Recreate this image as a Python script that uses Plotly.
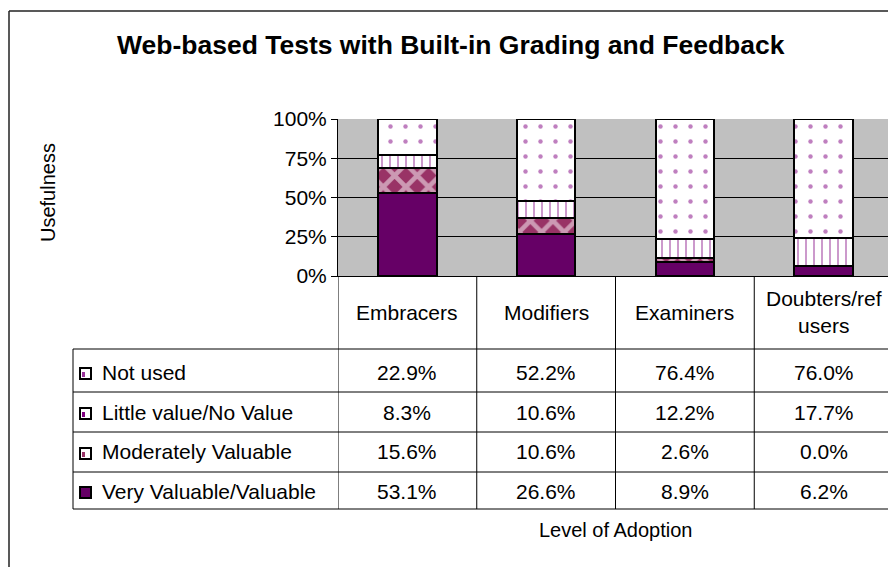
import plotly.graph_objects as go

categories = ["Embracers", "Modifiers", "Examiners", "Doubters/ref<br>users"]
series_names = ["Very Valuable/Valuable", "Moderately Valuable", "Little value/No Value", "Not used"]
very_valuable = [53.1, 26.6, 8.9, 6.2]
moderately = [15.6, 10.6, 2.6, 0.0]
little_value = [8.3, 10.6, 12.2, 17.7]
not_used = [22.9, 52.2, 76.4, 76.0]
y_ticks = [0, 25, 50, 75, 100]
title_text = "Web-based Tests with Built-in Grading and Feedback"
y_title = "Usefulness"
x_title = "Level of Adoption"

# page body has an 8px margin; figure is sized to fit the window
OFF = 8
W, H = 896 - OFF, 567 - OFF
# plot area in screen pixels
L, R, T, B = 338, 893, 119, 276
FONT = "Liberation Sans, Arial, sans-serif"
FS = 21


def px(xs):
    return (xs - L) / (R - L)


def py(ys):
    return (B - ys) / (B - T)


x_idx = list(range(len(categories)))
series_vals = [very_valuable, moderately, little_value, not_used]
patterns = [
    dict(shape=""),
    dict(shape="x", bgcolor="#993366", fgcolor="white", size=16, solidity=0.5, fillmode="overlay"),
    dict(shape="|", bgcolor="white", fgcolor="#800080", size=8, solidity=0.2, fillmode="overlay"),
    dict(shape=".", bgcolor="white", fgcolor="#800080", size=15, solidity=0.07, fillmode="overlay"),
]
fills = ["#660066", "#993366", "white", "white"]

fig = go.Figure()
for name, vals, pat, col in zip(series_names, series_vals, patterns, fills):
    fig.add_trace(go.Bar(
        x=x_idx, y=vals, name=name, width=0.42,
        marker=dict(color=col, pattern=pat, line=dict(color="black", width=2)),
        showlegend=False,
    ))

shapes = []
ann = []

# Outer chart border (left and top)
shapes.append(dict(type="line", xref="paper", yref="paper", x0=px(9), x1=px(905), y0=py(11), y1=py(11),
                   line=dict(color="#222", width=1.5)))
shapes.append(dict(type="line", xref="paper", yref="paper", x0=px(9), x1=px(9), y0=py(11), y1=py(580),
                   line=dict(color="#222", width=1.5)))

# Data table
row_bounds = [349, 392, 432, 472, 509]
row_centers = [372, 412, 452, 491]
table_left = 73
for b in [i - 0.5 for i in range(len(categories) + 1)]:
    shapes.append(dict(type="line", xref="x", yref="paper", x0=b, x1=b, y0=py(276), y1=py(509),
                       line=dict(color="black", width=1)))
shapes.append(dict(type="line", xref="paper", yref="paper", x0=px(table_left), x1=px(table_left),
                   y0=py(349), y1=py(509), line=dict(color="black", width=1)))
for yb in row_bounds:
    shapes.append(dict(type="line", xref="paper", yref="paper", x0=px(table_left), x1=px(R),
                       y0=py(yb), y1=py(yb), line=dict(color="black", width=1)))

for i, c in enumerate(categories):
    ann.append(dict(x=i, y=py(312), xref="x", yref="paper", text=c, showarrow=False,
                    font=dict(size=FS, family=FONT, color="black"), xanchor="center", yanchor="middle"))

row_order = [3, 2, 1, 0]
key_styles = [
    dict(fill="#660066"),
    dict(fill="white", mark="#993366"),
    dict(fill="white", mark="#800080"),
    dict(fill="white", mark="#993399"),
]
for r, si in enumerate(row_order):
    yc = row_centers[r]
    ann.append(dict(x=px(100), y=py(yc), xref="paper", yref="paper", text=series_names[si], showarrow=False,
                    font=dict(size=FS, family=FONT, color="black"), xanchor="left", yanchor="middle"))
    ks = key_styles[si]
    shapes.append(dict(type="rect", xref="paper", yref="paper", x0=px(80), x1=px(91),
                       y0=py(yc - 4), y1=py(yc + 7), fillcolor=ks["fill"],
                       line=dict(color="black", width=2)))
    if "mark" in ks:
        shapes.append(dict(type="rect", xref="paper", yref="paper", x0=px(82), x1=px(85),
                           y0=py(yc), y1=py(yc + 5), fillcolor=ks["mark"], line=dict(width=0)))
    for i, v in enumerate(series_vals[si]):
        ann.append(dict(x=i, y=py(yc), xref="x", yref="paper", text=f"{v:.1f}%", showarrow=False,
                        font=dict(size=FS, family=FONT, color="black"), xanchor="center", yanchor="middle"))

ann.append(dict(x=px(451), y=py(45), xref="paper", yref="paper", text=f"<b>{title_text}</b>", showarrow=False,
                font=dict(size=26.5, family=FONT, color="black"), xanchor="center", yanchor="middle"))
ann.append(dict(x=px(48), y=py(193), xref="paper", yref="paper", text=y_title, showarrow=False, textangle=-90,
                font=dict(size=20, family=FONT, color="black"), xanchor="center", yanchor="middle"))
ann.append(dict(x=px(615), y=py(530), xref="paper", yref="paper", text=x_title, showarrow=False,
                font=dict(size=20, family=FONT, color="black"), xanchor="center", yanchor="middle"))

fig.update_layout(
    width=W, height=H,
    margin=dict(l=L - OFF, r=W - (R - OFF), t=T - OFF, b=H - (B - OFF), autoexpand=False),
    barmode="stack",
    paper_bgcolor="white",
    plot_bgcolor="#C0C0C0",
    shapes=shapes,
    annotations=ann,
    font=dict(family=FONT, size=FS, color="black"),
    xaxis=dict(range=[-0.5, len(categories) - 0.5], showticklabels=False, ticks="", showgrid=False,
               zeroline=False, showline=True, linecolor="black", linewidth=1, fixedrange=True),
    yaxis=dict(range=[0, 100], tickvals=y_ticks, ticktext=[f"{t}%" for t in y_ticks],
               ticks="outside", ticklen=6, tickcolor="black", showgrid=True, gridcolor="black", gridwidth=1,
               zeroline=False, showline=True, linecolor="black", linewidth=1,
               tickfont=dict(size=FS, family=FONT, color="black"), fixedrange=True),
)

fig.write_html("out.html")
